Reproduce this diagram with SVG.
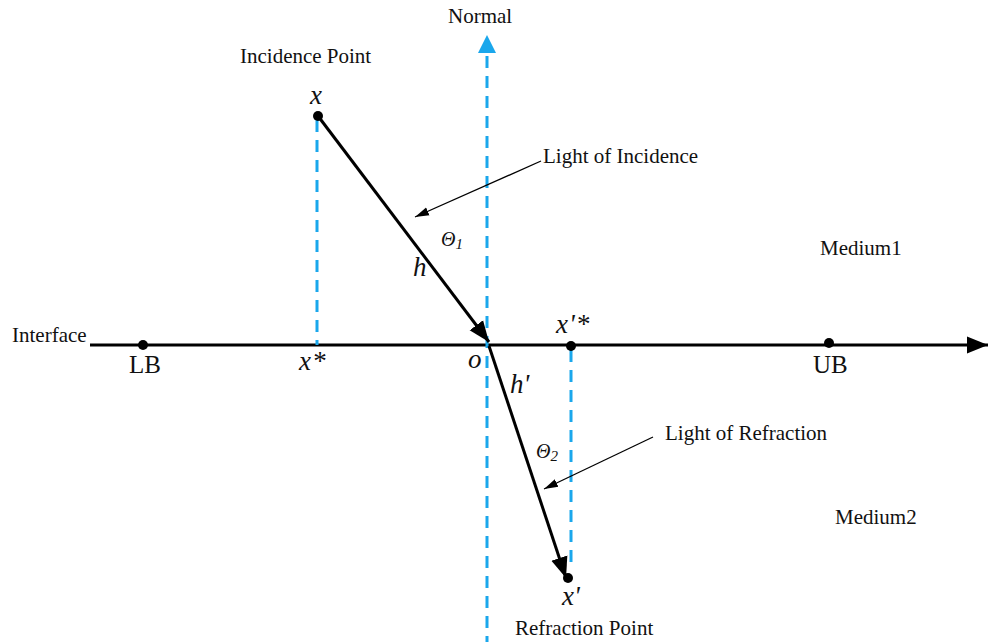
<svg xmlns="http://www.w3.org/2000/svg" width="991" height="642" viewBox="0 0 991 642">
<style>
.t{font-family:"Liberation Serif","Times New Roman",serif;fill:#111}
.lab{font-size:21px}
.big{font-size:25px}
.it{font-style:italic;font-size:27px}
.th{font-style:italic;font-size:20px}
.dash{stroke:#1aa7ec;stroke-width:3;stroke-dasharray:12 8;fill:none}
.ray{stroke:#000;stroke-width:3;fill:none}
.lead{stroke:#000;stroke-width:1.3;fill:none}
</style>
<defs>
<marker id="big" viewBox="0 0 10 10" refX="10" refY="5" markerWidth="21" markerHeight="21" markerUnits="userSpaceOnUse" orient="auto"><path d="M0,1L10,5L0,9z" fill="#000"/></marker>
<marker id="thin" viewBox="0 0 10 10" refX="10" refY="5" markerWidth="14" markerHeight="14" markerUnits="userSpaceOnUse" orient="auto"><path d="M0,2L10,5L0,8z" fill="#000"/></marker>
</defs>
<g id="connectors">
<line class="ray" x1="90" y1="345" x2="988" y2="345" marker-end="url(#big)"/>
<line class="dash" x1="487" y1="56" x2="487" y2="642"/>
<path d="M478,53L487,35L496,53z" fill="#1aa7ec"/>
<line class="dash" x1="317" y1="120" x2="317" y2="345"/>
<line class="dash" x1="571" y1="350" x2="571" y2="568"/>
<line class="ray" x1="318" y1="116" x2="489" y2="342" marker-end="url(#big)"/>
<line class="ray" x1="489" y1="346" x2="566" y2="578" marker-end="url(#big)"/>
<line class="lead" x1="541" y1="161" x2="415" y2="217" marker-end="url(#thin)"/>
<line class="lead" x1="653" y1="437" x2="544" y2="489" marker-end="url(#thin)"/>
</g>
<g id="normal"><text class="t lab" x="448" y="23">Normal</text></g>
<g id="incidence-point">
<text class="t lab" x="240" y="63">Incidence Point</text>
<circle cx="318" cy="116" r="5" fill="#000"/>
<text class="t it" x="310" y="104">x</text>
</g>
<g id="light-incidence"><text class="t lab" x="543" y="163">Light of Incidence</text></g>
<g id="theta1"><text class="t th" x="441" y="246">Θ<tspan font-size="15" dy="3">1</tspan></text></g>
<g id="h"><text class="t it" x="413" y="276">h</text></g>
<g id="medium1"><text class="t lab" x="820" y="255">Medium1</text></g>
<g id="interface"><text class="t lab" x="12" y="342">Interface</text></g>
<g id="lb">
<circle cx="143" cy="345" r="5" fill="#000"/>
<text class="t big" x="129" y="373">LB</text>
</g>
<g id="xstar"><text class="t it" x="299" y="370" letter-spacing="1">x*</text></g>
<g id="o"><text class="t it" x="468" y="368">o</text></g>
<g id="xpstar">
<circle cx="571" cy="346" r="5" fill="#000"/>
<text class="t it" x="556" y="333" letter-spacing="1">x'*</text>
</g>
<g id="hprime"><text class="t it" x="510" y="393">h'</text></g>
<g id="ub">
<circle cx="829" cy="343" r="5" fill="#000"/>
<text class="t big" x="813" y="373">UB</text>
</g>
<g id="theta2"><text class="t th" x="536" y="458">Θ<tspan font-size="15" dy="3">2</tspan></text></g>
<g id="light-refraction"><text class="t lab" x="665" y="440">Light of Refraction</text></g>
<g id="medium2"><text class="t lab" x="835" y="524">Medium2</text></g>
<g id="refraction-point">
<circle cx="568" cy="578" r="5" fill="#000"/>
<text class="t it" x="562" y="605">x'</text>
<text class="t lab" x="515" y="635">Refraction Point</text>
</g>
</svg>
